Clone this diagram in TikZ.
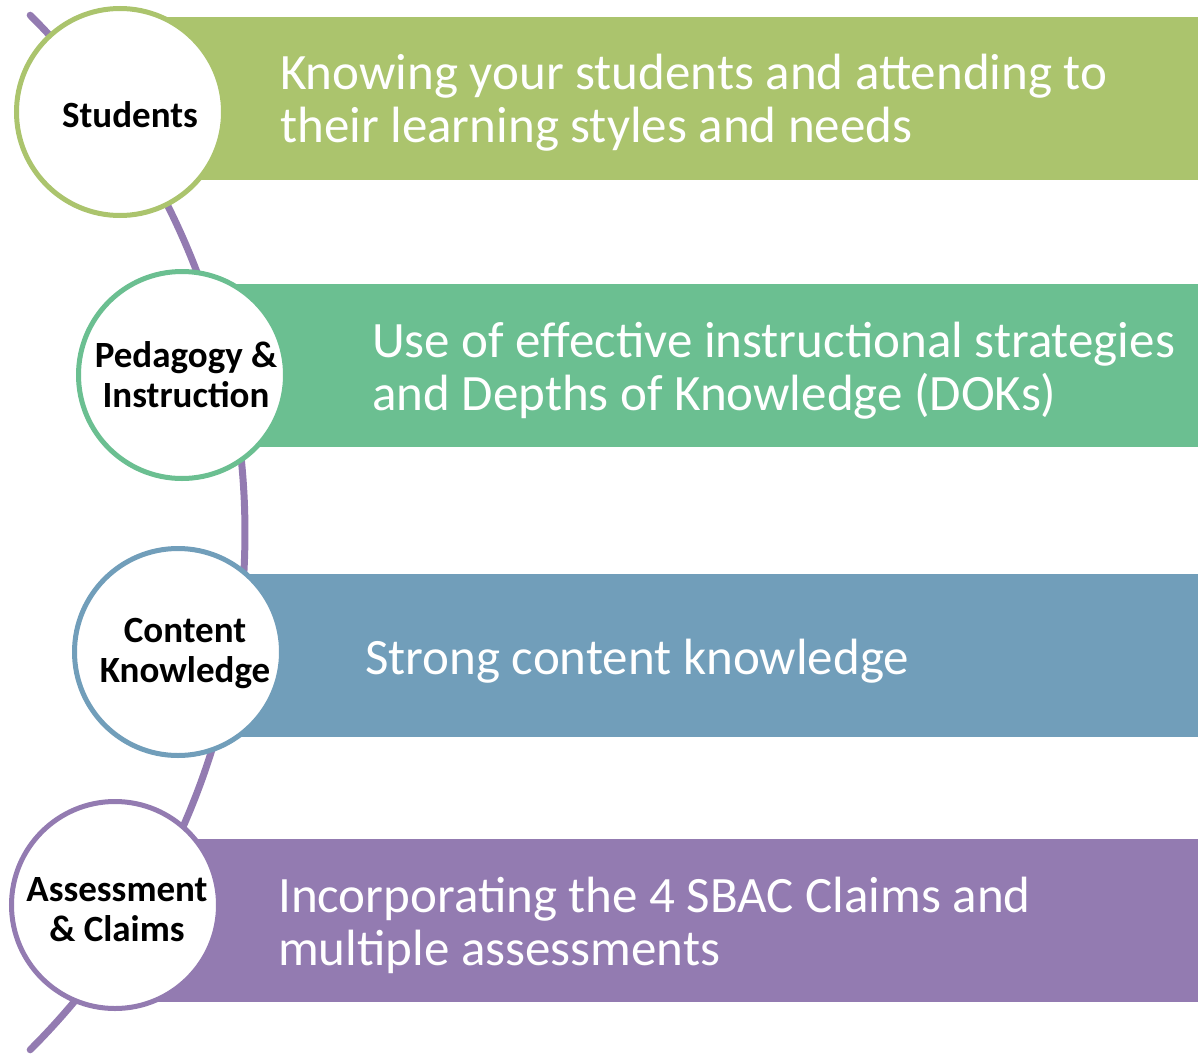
\documentclass[tikz,border=0pt]{standalone}
\usepackage{fontspec}
\setmainfont{Carlito}
\definecolor{cgreen}{HTML}{ABC46D}
\definecolor{cteal}{HTML}{6BBF91}
\definecolor{cblue}{HTML}{719EBA}
\definecolor{cpurple}{HTML}{937BB1}
\begin{document}
\begin{tikzpicture}[x=1pt,y=-1pt,
  disc/.style={circle, draw=#1, line width=5pt, fill=white, minimum size=207pt, inner sep=0pt},
  disctext/.style={font=\fontsize{37}{40}\selectfont\bfseries, align=center, text=black},
  bartext/.style={font=\fontsize{51}{53}\selectfont, align=left, text=white, anchor=west, inner sep=0pt}]
\useasboundingbox (0,0) rectangle (1198,1057);
% arc
\draw[cpurple, line width=7pt, line cap=round] plot[domain=-45.1:45.1, samples=80, smooth] ({-485.3+730.3*cos(\x)},{532.5+730.3*sin(\x)});
% bars
\fill[cgreen] (120,17) rectangle (1198,180);
\fill[cteal] (182,284) rectangle (1198,447);
\fill[cblue] (178,574) rectangle (1198,737);
\fill[cpurple] (115,839) rectangle (1198,1002);
% circles
\node[disc=cgreen] (c1) at (120,112) {};
\node[disc=cteal] (c2) at (182,375) {};
\node[disc=cblue] (c3) at (178,652) {};
\node[disc=cpurple] (c4) at (115,905) {};
\node[disctext] (t1) at (130,115) {Students};
\node[disctext] (t2) at (186,375) {Pedagogy \&\\Instruction};
\node[disctext] (t3) at (185,653) {Content\\Knowledge};
\node[disctext] (t4) at (117,910) {Assessment\\\& Claims};
% bar texts
\node[bartext] (b1) at (280,103) {Knowing your students and attending to\\their learning styles and needs};
\node[bartext] (b2) at (372,371) {Use of effective instructional strategies\\and Depths of Knowledge (DOKs)};
\node[bartext] (b3) at (365,661) {Strong content knowledge};
\node[bartext] (b4) at (278,925) {Incorporating the 4 SBAC Claims and\\multiple assessments};
\end{tikzpicture}
\end{document}
